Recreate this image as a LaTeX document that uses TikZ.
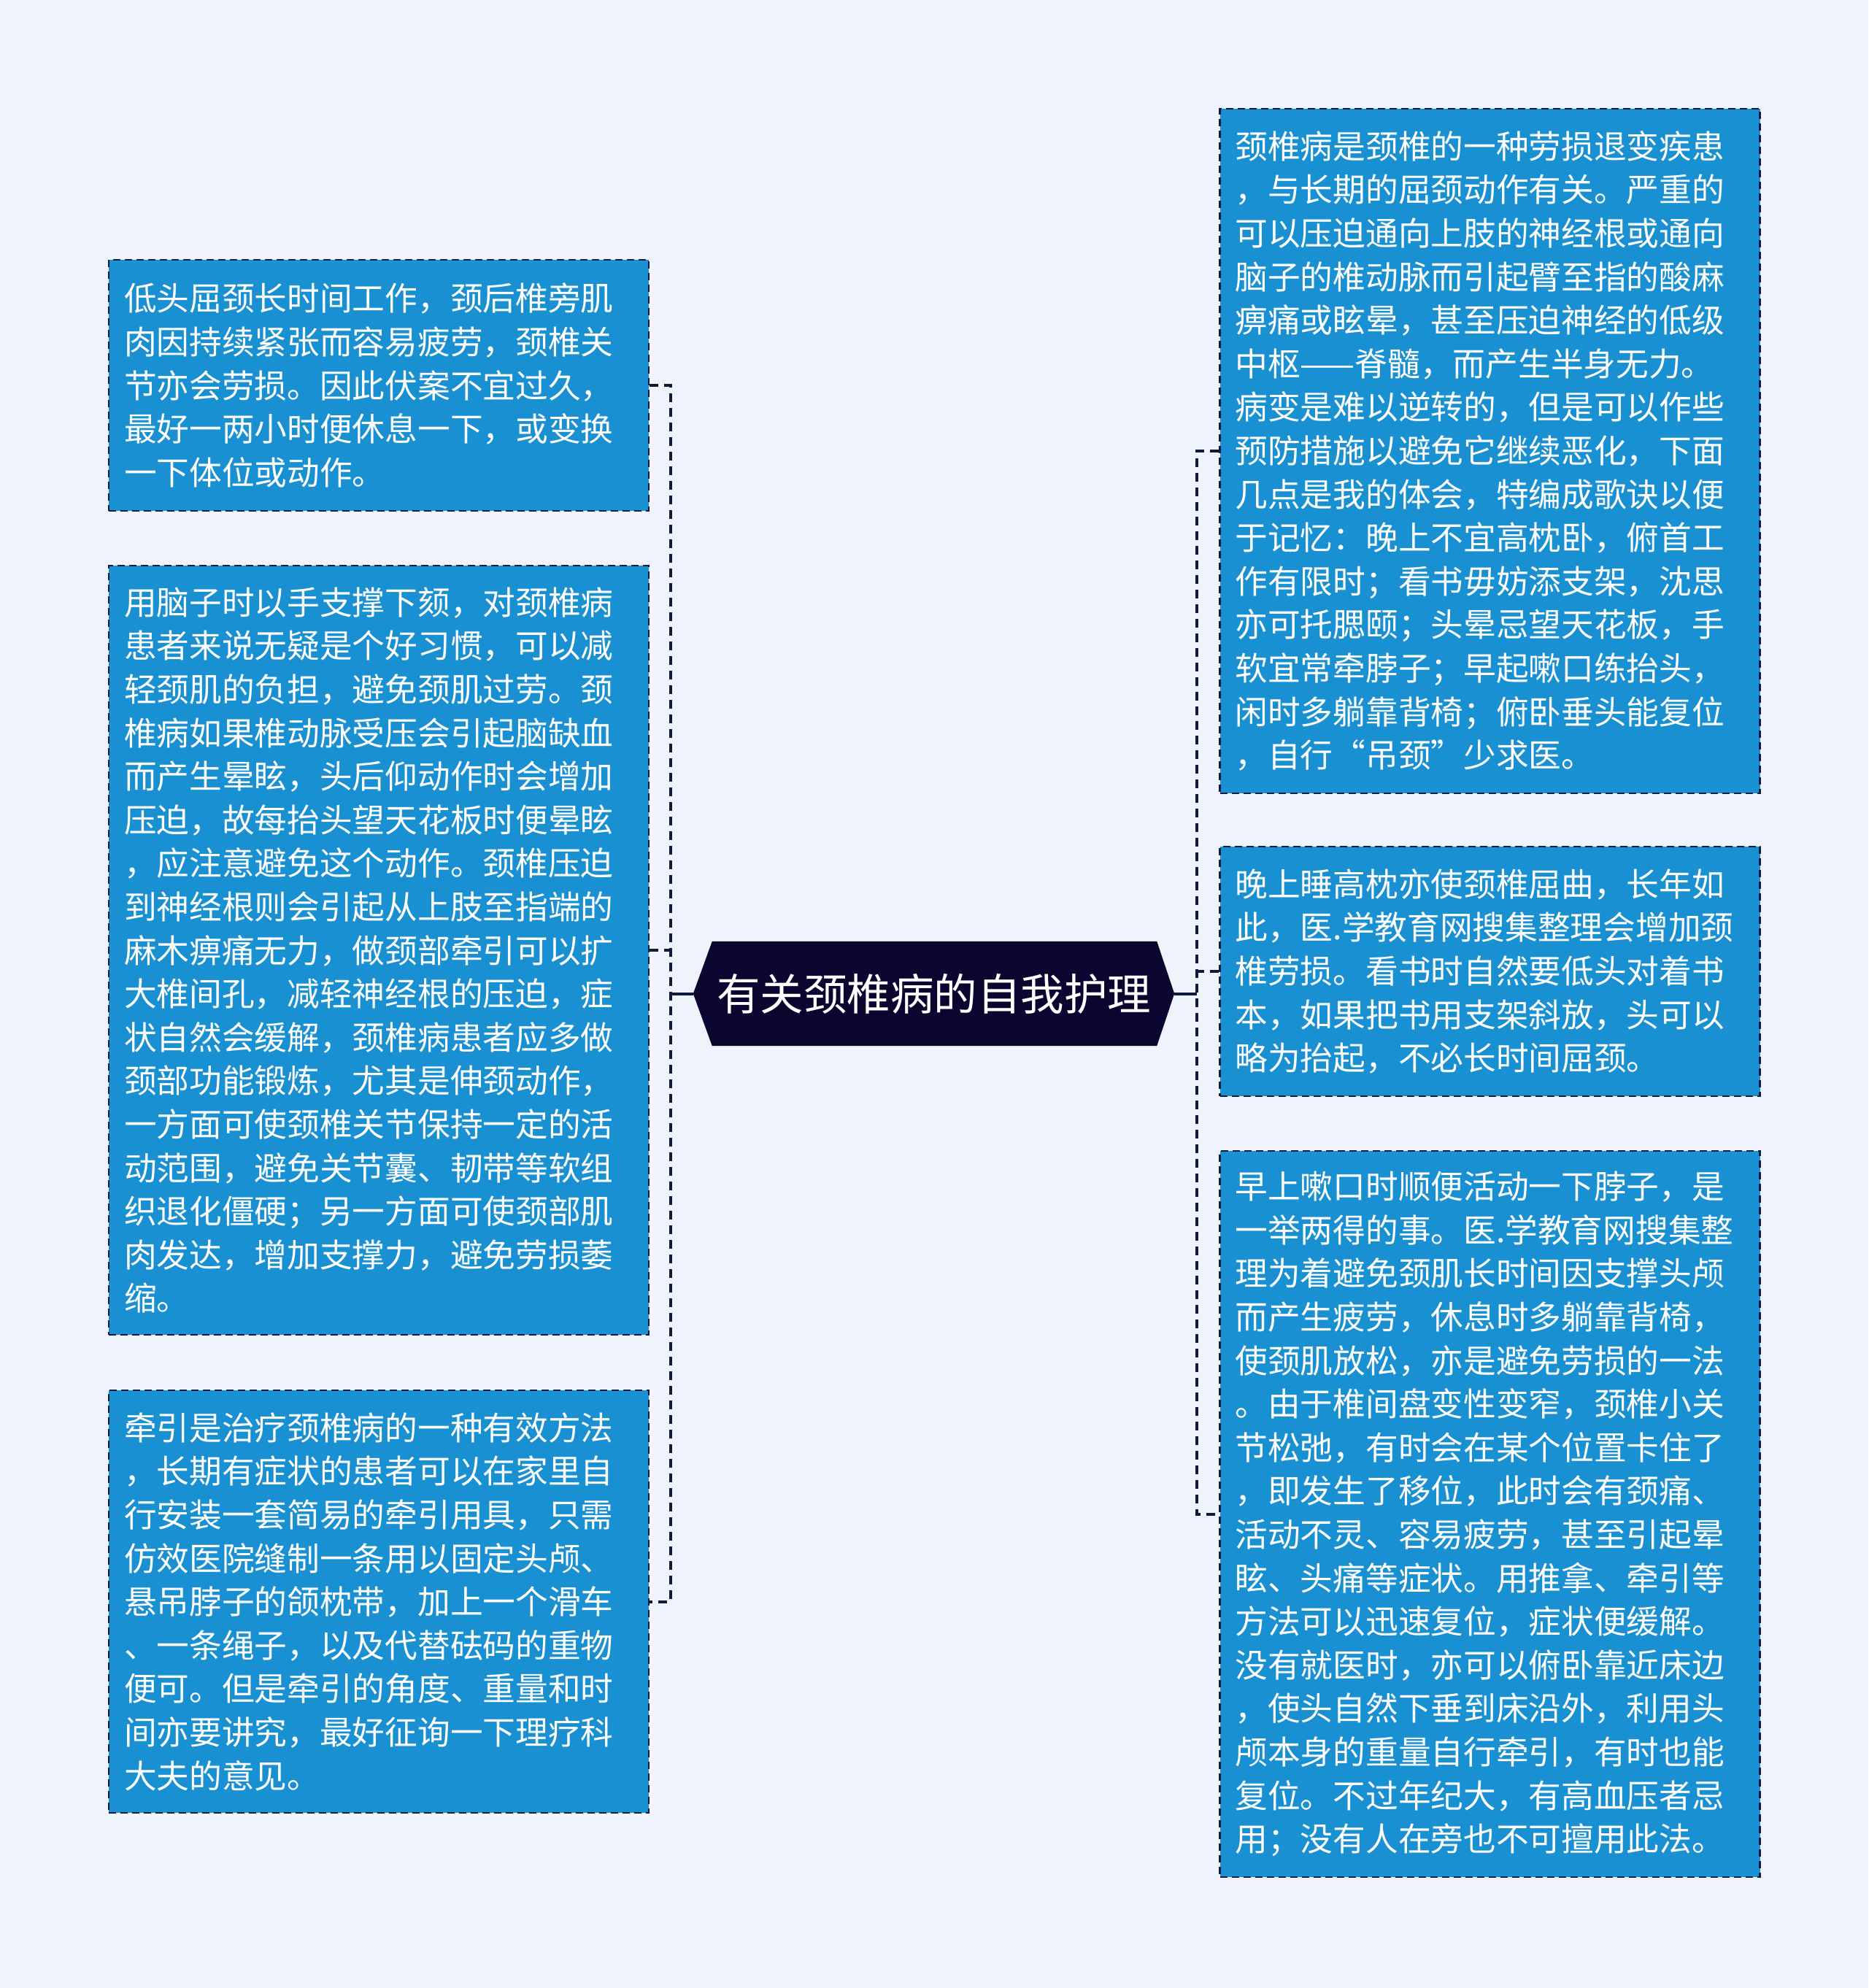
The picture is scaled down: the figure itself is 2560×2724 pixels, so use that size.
\documentclass[tikz,border=0pt]{standalone}
\usepackage{fontspec}
\newfontfamily\cjk{Noto Sans CJK SC}
\definecolor{pagebg}{HTML}{EEF3FC}
\definecolor{boxfill}{HTML}{1990D2}
\definecolor{boxline}{HTML}{101A3A}
\definecolor{rootfill}{HTML}{0B0630}
\pgfdeclarelayer{bg}
\pgfsetlayers{bg,main}
\tikzset{
  leaf/.style={draw=boxline, line width=2.8pt, dash pattern=on 10pt off 6pt,
    fill=boxfill, text=white, align=left, text width=698pt, inner xsep=21pt,
    inner ysep=0pt, minimum width=740pt,
    font=\cjk\fontsize{44.7}{59.6}\selectfont},
  rootnode/.style={text=white, minimum width=659pt, minimum height=143pt,
    inner sep=0pt, font=\cjk\fontsize{59.5}{70}\selectfont},
  trunk/.style={draw=boxline, line width=4pt, dash pattern=on 12pt off 8pt},
  rootlink/.style={draw=boxline, line width=4pt}
}
\begin{document}
\begin{tikzpicture}[x=1pt,y=-1pt]
\begin{pgfonlayer}{bg}
\fill[pagebg] (0,0) rectangle (2560,2724);
\end{pgfonlayer}
\useasboundingbox (0,0) rectangle (2560,2724);

% root
\node[rootnode] (c) at (1279.5,1361.5) {有关颈椎病的自我护理};
\begin{pgfonlayer}{bg}
\fill[rootfill] (c.west) -- ([xshift=26pt]c.north west) -- ([xshift=-24pt]c.north east)
  -- (c.east) -- ([xshift=-24pt]c.south east) -- ([xshift=26pt]c.south west) -- cycle;
\end{pgfonlayer}

% left leaves
\node[leaf, minimum height=344pt] (lb1) at (519,528) {低头屈颈长时间工作，颈后椎旁肌\\
肉因持续紧张而容易疲劳，颈椎关\\
节亦会劳损。因此伏案不宜过久，\\
最好一两小时便休息一下，或变换\\
一下体位或动作。};

\node[leaf, minimum height=1054pt] (lb2) at (519,1302) {用脑子时以手支撑下颏，对颈椎病\\
患者来说无疑是个好习惯，可以减\\
轻颈肌的负担，避免颈肌过劳。颈\\
椎病如果椎动脉受压会引起脑缺血\\
而产生晕眩，头后仰动作时会增加\\
压迫，故每抬头望天花板时便晕眩\\
，应注意避免这个动作。颈椎压迫\\
到神经根则会引起从上肢至指端的\\
麻木痹痛无力，做颈部牵引可以扩\\
大椎间孔，减轻神经根的压迫，症\\
状自然会缓解，颈椎病患者应多做\\
颈部功能锻炼，尤其是伸颈动作，\\
一方面可使颈椎关节保持一定的活\\
动范围，避免关节囊、韧带等软组\\
织退化僵硬；另一方面可使颈部肌\\
肉发达，增加支撑力，避免劳损萎\\
缩。};

\node[leaf, minimum height=579pt] (lb3) at (519,2194.5) {牵引是治疗颈椎病的一种有效方法\\
，长期有症状的患者可以在家里自\\
行安装一套简易的牵引用具，只需\\
仿效医院缝制一条用以固定头颅、\\
悬吊脖子的颌枕带，加上一个滑车\\
、一条绳子，以及代替砝码的重物\\
便可。但是牵引的角度、重量和时\\
间亦要讲究，最好征询一下理疗科\\
大夫的意见。};

% right leaves
\node[leaf, minimum height=938pt] (rb1) at (2041.5,618) {颈椎病是颈椎的一种劳损退变疾患\\
，与长期的屈颈动作有关。严重的\\
可以压迫通向上肢的神经根或通向\\
脑子的椎动脉而引起臂至指的酸麻\\
痹痛或眩晕，甚至压迫神经的低级\\
中枢——脊髓，而产生半身无力。\\
病变是难以逆转的，但是可以作些\\
预防措施以避免它继续恶化，下面\\
几点是我的体会，特编成歌诀以便\\
于记忆：晚上不宜高枕卧，俯首工\\
作有限时；看书毋妨添支架，沈思\\
亦可托腮颐；头晕忌望天花板，手\\
软宜常牵脖子；早起嗽口练抬头，\\
闲时多躺靠背椅；俯卧垂头能复位\\
，自行“吊颈”少求医。};

\node[leaf, minimum height=342pt] (rb2) at (2041.5,1331) {晚上睡高枕亦使颈椎屈曲，长年如\\
此，医.学教育网搜集整理会增加颈\\
椎劳损。看书时自然要低头对着书\\
本，如果把书用支架斜放，头可以\\
略为抬起，不必长时间屈颈。};

\node[leaf, minimum height=995pt] (rb3) at (2041.5,2074.5) {早上嗽口时顺便活动一下脖子，是\\
一举两得的事。医.学教育网搜集整\\
理为着避免颈肌长时间因支撑头颅\\
而产生疲劳，休息时多躺靠背椅，\\
使颈肌放松，亦是避免劳损的一法\\
。由于椎间盘变性变窄，颈椎小关\\
节松弛，有时会在某个位置卡住了\\
，即发生了移位，此时会有颈痛、\\
活动不灵、容易疲劳，甚至引起晕\\
眩、头痛等症状。用推拿、牵引等\\
方法可以迅速复位，症状便缓解。\\
没有就医时，亦可以俯卧靠近床边\\
，使头自然下垂到床沿外，利用头\\
颅本身的重量自行牵引，有时也能\\
复位。不过年纪大，有高血压者忌\\
用；没有人在旁也不可擅用此法。};

% connectors
\coordinate (lt) at (919,1361.5);
\coordinate (rt) at (1640,1361.5);
\draw[rootlink] (c.west) -- (lt);
\draw[rootlink] (c.east) -- (rt);
\draw[trunk] (lb1.east) -- (lb1.east -| lt) -- (lb3.east -| lt) -- (lb3.east);
\draw[trunk] (lb2.east) -- (lb2.east -| lt);
\draw[trunk] (rb1.west) -- (rb1.west -| rt) -- (rb3.west -| rt) -- (rb3.west);
\draw[trunk] (rb2.west) -- (rb2.west -| rt);
\end{tikzpicture}
\end{document}
